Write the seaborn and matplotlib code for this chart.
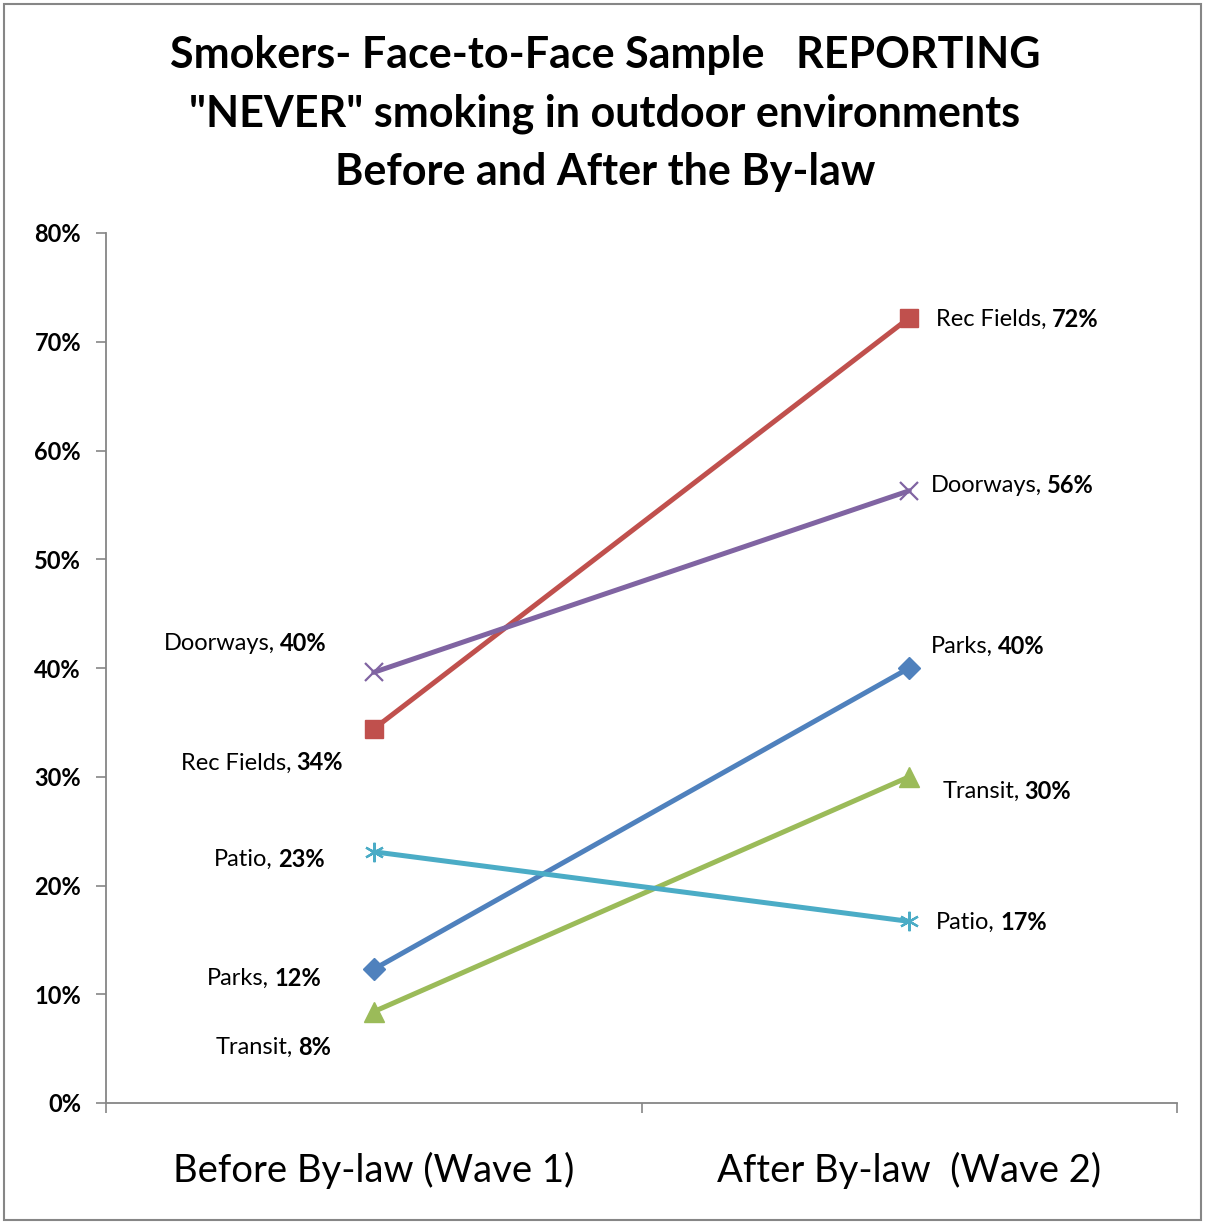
import matplotlib
matplotlib.use("Agg")
import matplotlib.pyplot as plt
import pandas as pd
import seaborn as sns

# Share of smokers reporting "never" smoking, by outdoor setting
waves = ["Before By-law (Wave 1)", "After By-law  (Wave 2)"]
locations = ["Parks", "Rec Fields", "Transit", "Doorways", "Patio"]
wave1 = [0.123, 0.344, 0.084, 0.396, 0.231]
wave2 = [0.400, 0.722, 0.300, 0.563, 0.167]

title_lines = [
    "Smokers- Face-to-Face Sample   REPORTING",
    "\"NEVER\" smoking in outdoor environments",
    "Before and After the By-law",
]
yticks = [0.0, 0.1, 0.2, 0.3, 0.4, 0.5, 0.6, 0.7, 0.8]

colors = {
    "Parks": "#4F81BD",
    "Rec Fields": "#C0504D",
    "Transit": "#9BBB59",
    "Doorways": "#8064A2",
    "Patio": "#4BACC6",
}
# marker, size, edge width
marker_style = {
    "Parks": ("D", 11, 1.0),
    "Rec Fields": ("s", 13, 1.0),
    "Transit": ("^", 14, 1.0),
    "Doorways": ("x", 13, 1.6),
    "Patio": ((6, 2, 0), 14, 1.6),
}
# label offsets in pixels (dx, dy) for wave 1 (right-aligned) and wave 2 (left-aligned)
left_offsets = {
    "Parks": (-53, -9),
    "Rec Fields": (-31, -34),
    "Transit": (-43, -36),
    "Doorways": (-47, 29),
    "Patio": (-49, -8),
}
right_offsets = {
    "Parks": (22, 22),
    "Rec Fields": (27, -2),
    "Transit": (33, -15),
    "Doorways": (22, 5),
    "Patio": (27, -1),
}

df = pd.DataFrame({
    "location": [loc for loc in locations for _ in waves],
    "wave": [i for _ in locations for i in range(len(waves))],
    "share": [v for pair in zip(wave1, wave2) for v in pair],
})

sns.set_style("white")
plt.rcParams["font.family"] = ["Lato", "DejaVu Sans"]
plt.rcParams["text.color"] = "black"
plt.rcParams["xtick.color"] = "black"
plt.rcParams["ytick.color"] = "black"

fig = plt.figure(figsize=(12.05, 12.22), dpi=100)
ax = fig.add_axes([106 / 1205, 1 - 1103 / 1222, 1071 / 1205, 870 / 1222])

for loc in locations:
    m, ms, mew = marker_style[loc]
    sns.lineplot(
        data=df[df["location"] == loc], x="wave", y="share", ax=ax,
        color=colors[loc], linewidth=3.6, marker=m, markersize=ms,
        markeredgewidth=mew, markeredgecolor=colors[loc], legend=False,
    )

LABEL_SIZE = 17


def label(x, y, name, value, offset, side):
    dx, dy = offset
    pct = f"{round(value * 100)}%"
    if side == "left":
        v = ax.annotate(pct, (x, y), xytext=(dx, dy), textcoords="offset pixels",
                        ha="right", va="center", fontsize=LABEL_SIZE, fontweight="bold")
        ax.annotate(name + ",", (0, 0.5), xycoords=v, xytext=(-5, 0),
                    textcoords="offset pixels", ha="right", va="center",
                    fontsize=LABEL_SIZE)
    else:
        n = ax.annotate(name + ",", (x, y), xytext=(dx, dy), textcoords="offset pixels",
                        ha="left", va="center", fontsize=LABEL_SIZE)
        ax.annotate(pct, (1, 0.5), xycoords=n, xytext=(5, 0),
                    textcoords="offset pixels", ha="left", va="center",
                    fontsize=LABEL_SIZE, fontweight="bold")


for loc, v1, v2 in zip(locations, wave1, wave2):
    label(0, v1, loc, v1, left_offsets[loc], "left")
    label(1, v2, loc, v2, right_offsets[loc], "right")

ax.set_xlim(-0.5, 1.5)
ax.set_ylim(0, 0.8)
ax.set_yticks(yticks)
ax.set_yticklabels([f"{round(t * 100)}%" for t in yticks], fontsize=17, fontweight="bold")
ax.set_xticks([-0.5, 0.5, 1.5])
ax.set_xticklabels([])
ax.set_xticks([0, 1], minor=True)
ax.set_xticklabels(waves, minor=True, fontsize=27.5)
ax.tick_params(axis="x", which="minor", length=0, pad=35)
ax.tick_params(axis="x", which="major", direction="out", length=7, width=1.2,
               color="#868686", bottom=True)
ax.tick_params(axis="y", direction="out", length=7, width=1.2, color="#868686",
               left=True, pad=11)
ax.set_xlabel("")
ax.set_ylabel("")

sns.despine(ax=ax)
for s in ("left", "bottom"):
    ax.spines[s].set_color("#868686")
    ax.spines[s].set_linewidth(1.3)

for line, ypix in zip(title_lines, [55, 114, 172]):
    fig.text(605 / 1205, 1 - ypix / 1222, line, ha="center", va="center",
             fontsize=31, fontweight="bold")

# thin frame around the whole chart
fig.patches.append(plt.Rectangle((0.003, 0.002), 0.994, 0.995, transform=fig.transFigure,
                                 fill=False, edgecolor="#868686", linewidth=1.5))

fig.savefig("out.png", dpi=100)
